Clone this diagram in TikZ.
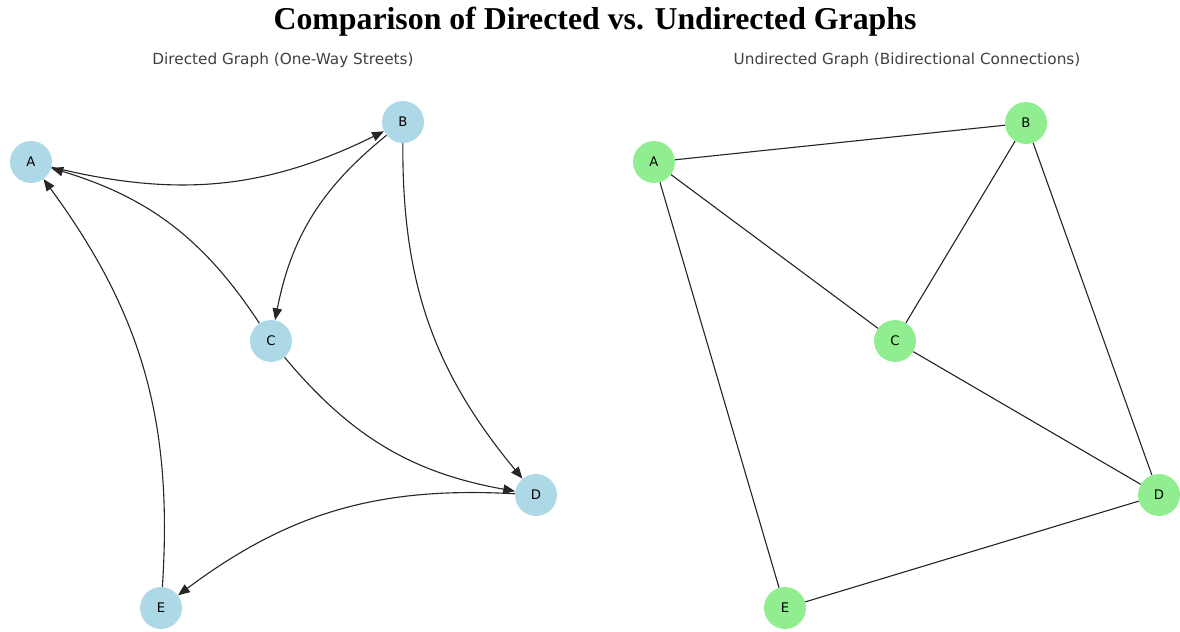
\documentclass[tikz,border=0pt]{standalone}
\usepackage{fontspec}
\setmainfont{Liberation Serif}
\newfontfamily\dejavu{DejaVu Sans}
\usepackage{tikz}
\usetikzlibrary{arrows.meta}
\usepackage{xcolor}
\definecolor{lightblue}{HTML}{ADD8E6}
\definecolor{lightgreen}{HTML}{90EE90}

\begin{document}
\begin{tikzpicture}[x=0.72pt,y=-0.72pt,
    vertex/.style={circle,inner sep=0pt,minimum size=30.2pt,font=\dejavu\fontsize{9.5}{11}\selectfont},
    dvertex/.style={vertex,fill=lightblue},
    uvertex/.style={vertex,fill=lightgreen},
    darc/.style={-{Triangle[length=8.5pt,width=6.8pt]},draw=black!85,line width=0.8pt,bend right=20},
    uarc/.style={draw=black!85,line width=0.8pt},
    subtitle/.style={font=\dejavu\fontsize{11}{13}\selectfont,text=black!75},
  ]
  \useasboundingbox (0,0) rectangle (1180,632);

  \node[font=\bfseries\fontsize{22.9}{27}\selectfont] (title) at (595,22) {Comparison of Directed vs. Undirected Graphs};
  \node[subtitle] (dtitle) at (283,60) {Directed Graph (One-Way Streets)};
  \node[subtitle] (utitle) at (907,60) {Undirected Graph (Bidirectional Connections)};

  % directed graph
  \node[dvertex] (dA) at (31,162) {A};
  \node[dvertex] (dB) at (403,122) {B};
  \node[dvertex] (dC) at (271,341) {C};
  \node[dvertex] (dD) at (536,495) {D};
  \node[dvertex] (dE) at (161,608) {E};

  \draw[darc] (dA) to (dB);
  \draw[darc] (dB) to (dC);
  \draw[darc] (dB) to (dD);
  \draw[darc] (dC) to (dA);
  \draw[darc] (dC) to (dD);
  \draw[darc] (dD) to (dE);
  \draw[darc] (dE) to (dA);

  % undirected graph
  \node[uvertex] (uA) at (654,162) {A};
  \node[uvertex] (uB) at (1026,123) {B};
  \node[uvertex] (uC) at (895,341) {C};
  \node[uvertex] (uD) at (1159,495) {D};
  \node[uvertex] (uE) at (785,608) {E};

  \draw[uarc] (uA) -- (uB);
  \draw[uarc] (uA) -- (uC);
  \draw[uarc] (uA) -- (uE);
  \draw[uarc] (uB) -- (uC);
  \draw[uarc] (uB) -- (uD);
  \draw[uarc] (uC) -- (uD);
  \draw[uarc] (uD) -- (uE);

\end{tikzpicture}
\end{document}
